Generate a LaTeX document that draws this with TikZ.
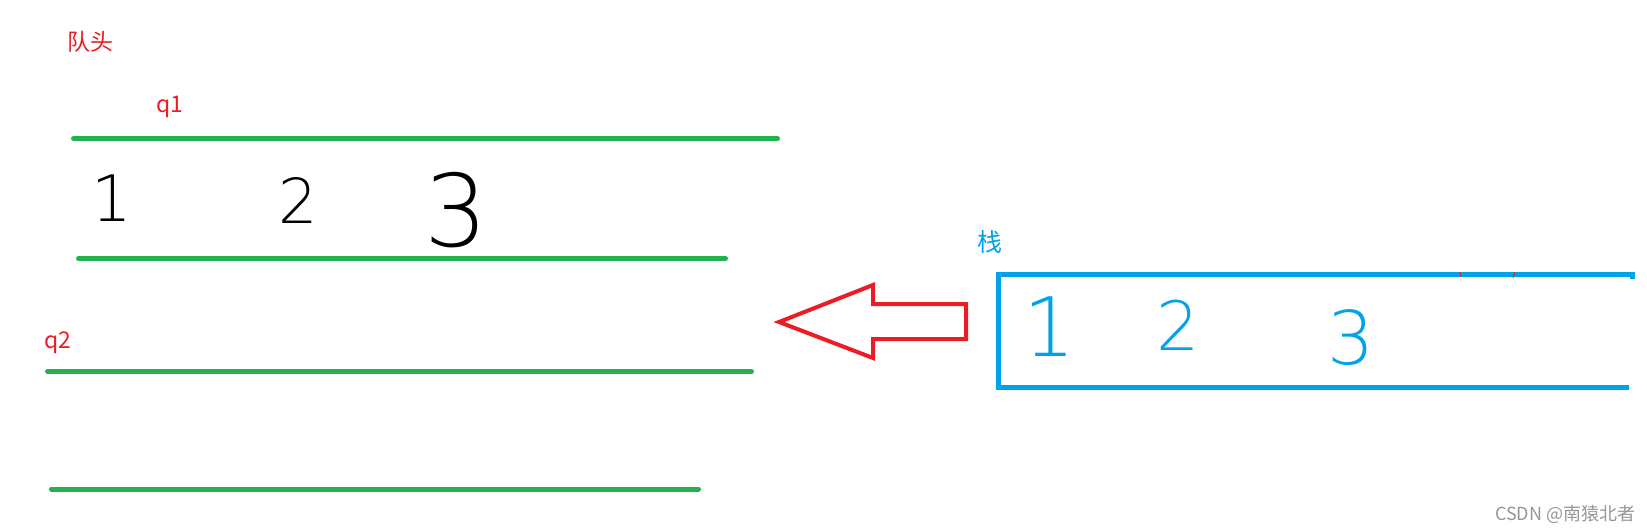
\documentclass[tikz,border=0pt]{standalone}
\usepackage{fontspec}
\setmainfont{Noto Sans CJK SC}
\newfontfamily\cjkfont{Noto Sans CJK SC}
\newfontfamily\thinfont{DejaVu Sans ExtraLight}
\definecolor{pgreen}{HTML}{22B14C}
\definecolor{pred}{HTML}{ED1C24}
\definecolor{pblue}{HTML}{00A2E8}
\definecolor{wmgray}{RGB}{150,150,150}
\tikzset{
  qline/.style={draw=pgreen, line width=5pt, line cap=round},
  redlabel/.style={text=pred, inner sep=0pt, font=\cjkfont\fontsize{#1}{#1}\selectfont},
  bluelabel/.style={text=pblue, inner sep=0pt, font=\cjkfont\fontsize{#1}{#1}\selectfont},
  hand/.style={inner sep=0pt, anchor=base, font=\thinfont\fontsize{#1}{#1}\selectfont},
  bigarrow/.style={draw=pred, line width=4pt, miter limit=20},
  stackbox/.style={draw=pblue, line width=5pt},
}
\begin{document}
\begin{tikzpicture}[x=1pt, y=-1pt]
\useasboundingbox (0,0) rectangle (1647,532);
% labels
\node[redlabel=23] (head) at (90,42) {队头};
\node[redlabel=23, anchor=base west] (q1) at (156,113) {q1};
\node[redlabel=23, anchor=base west] (q2) at (44,348) {q2};
\node[bluelabel=25] (stack) at (990,242) {栈};
% queue lines
\draw[qline] (73.5,138.5) -- (777.5,138.5);
\draw[qline] (78.5,258.5) -- (725.5,258.5);
\draw[qline] (47.5,371.5) -- (751.5,371.5);
\draw[qline] (51.5,489) -- (698.5,489);
% handwritten numbers in q1
\node[hand=64] (n1) at (112,222) {1};
\node[hand=62] (n2) at (298,223) {2};
\node[hand=100] (n3) at (456,246) {3};
% big red arrow
\draw[bigarrow] (779,322) -- (873,285) -- (873,304) -- (966,304) -- (966,339) -- (873,339) -- (873,358) -- cycle;
% stack box (open on the right)
\draw[stackbox] (1635,274.5) -- (998.5,274.5) -- (998.5,387.5) -- (1629,387.5);
\fill[pblue] (1630,272) rectangle (1635,279);
\draw[pred, line width=1pt] (1460,272) -- (1461,277);
\draw[pred, line width=1pt] (1515,272) -- (1513,278);
% numbers in stack
\node[hand=82, text=pblue] (s1) at (1050,356) {1};
\node[hand=68, text=pblue] (s2) at (1178,350) {2};
\node[hand=74, text=pblue] (s3) at (1351,364) {3};
% watermark
\node[inner sep=0pt, anchor=base west, text=wmgray, font=\cjkfont\fontsize{18}{18}\selectfont] (wm) at (1495,520) {CSDN @南猿北者};
\end{tikzpicture}
\end{document}
